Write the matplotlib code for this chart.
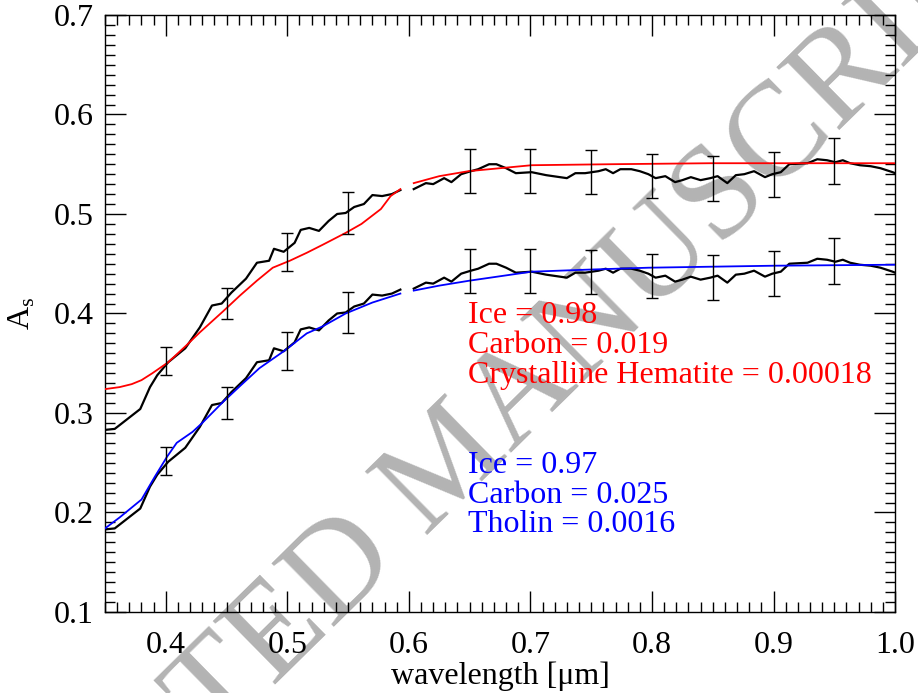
import numpy as np
import matplotlib
matplotlib.use('Agg')
import matplotlib.pyplot as plt
from matplotlib.ticker import MultipleLocator, FormatStrFormatter

plt.rcParams['font.family'] = ['Liberation Serif', 'DejaVu Serif']
plt.rcParams['mathtext.fontset'] = 'custom'
plt.rcParams['mathtext.rm'] = 'Liberation Serif'
plt.rcParams['font.size'] = 23

# observed albedo spectrum (lower copy); upper copy is shifted by offset
wave = [0.350, 0.358, 0.379, 0.387, 0.393, 0.402, 0.416, 0.428, 0.438, 0.446,
        0.454, 0.466, 0.475, 0.485, 0.489, 0.497, 0.506, 0.511, 0.518, 0.526,
        0.534, 0.541, 0.548, 0.555, 0.563, 0.570, 0.578, 0.586, 0.593,
        0.604, 0.614, 0.620, 0.629, 0.635, 0.643, 0.651, 0.657, 0.666, 0.672,
        0.680, 0.688, 0.701, 0.713, 0.730, 0.737, 0.745, 0.756, 0.762, 0.768,
        0.774, 0.783, 0.790, 0.797, 0.803, 0.811, 0.819, 0.825, 0.832, 0.840,
        0.848, 0.854, 0.862, 0.869, 0.876, 0.884, 0.893, 0.899, 0.906, 0.913,
        0.928, 0.936, 0.944, 0.951, 0.957, 0.963, 0.971, 0.980, 0.988, 0.998, 1.000]
albedo = [0.183, 0.184, 0.204, 0.226, 0.238, 0.251, 0.265, 0.286, 0.308, 0.310,
          0.321, 0.335, 0.351, 0.353, 0.365, 0.362, 0.371, 0.384, 0.386, 0.383,
          0.393, 0.400, 0.401, 0.407, 0.410, 0.419, 0.418, 0.420, 0.424,
          0.425, 0.431, 0.430, 0.436, 0.432, 0.440, 0.443, 0.445, 0.450, 0.450,
          0.446, 0.441, 0.442, 0.439, 0.436, 0.441, 0.441, 0.443, 0.445, 0.441,
          0.445, 0.445, 0.443, 0.440, 0.436, 0.438, 0.432, 0.434, 0.437, 0.434,
          0.436, 0.438, 0.431, 0.439, 0.440, 0.443, 0.437, 0.440, 0.442, 0.450,
          0.451, 0.455, 0.454, 0.452, 0.454, 0.451, 0.449, 0.448, 0.446, 0.442, 0.441]
offset = 0.1
gap = 0.6  # no data between the two detectors

err_wave = [0.40, 0.45, 0.50, 0.55, 0.65, 0.70, 0.75, 0.80, 0.85, 0.90, 0.95]
err_albedo = [0.252, 0.310, 0.362, 0.401, 0.443, 0.443, 0.442, 0.438, 0.436, 0.440, 0.453]
err_size = [0.014, 0.016, 0.019, 0.021, 0.022, 0.022, 0.022, 0.022, 0.0225, 0.0225, 0.023]

# model 1 (ice + carbon + crystalline hematite)
red_wave = [0.350, 0.362, 0.372, 0.380, 0.389, 0.402, 0.417, 0.428, 0.447, 0.461,
            0.475, 0.488, 0.502, 0.516, 0.529, 0.548, 0.561, 0.577, 0.585, 0.593,
            0.604, 0.625, 0.649, 0.675, 0.701, 0.766, 0.848, 1.000]
red_albedo = [0.324, 0.326, 0.329, 0.333, 0.340, 0.351, 0.368, 0.381, 0.402, 0.418,
              0.433, 0.446, 0.453, 0.461, 0.469, 0.481, 0.490, 0.505, 0.518, 0.525,
              0.531, 0.538, 0.543, 0.546, 0.549, 0.550, 0.551, 0.551]

# model 2 (ice + carbon + tholin)
blue_wave = [0.350, 0.362, 0.380, 0.391, 0.401, 0.409, 0.422, 0.430, 0.447, 0.461,
             0.477, 0.497, 0.516, 0.529, 0.548, 0.570, 0.593,
             0.604, 0.625, 0.650, 0.701, 0.746, 0.797, 0.900, 1.000]
blue_albedo = [0.184, 0.195, 0.213, 0.236, 0.256, 0.270, 0.281, 0.290, 0.311, 0.327,
               0.345, 0.362, 0.380, 0.387, 0.400, 0.411, 0.420,
               0.423, 0.428, 0.433, 0.442, 0.444, 0.446, 0.448, 0.449]

red_text = ['Ice = 0.98', 'Carbon = 0.019', 'Crystalline Hematite = 0.00018']
blue_text = ['Ice = 0.97', 'Carbon = 0.025', 'Tholin = 0.0016']


def split(x, y):
    x = np.array(x)
    y = np.array(y)
    lo = x < gap
    return (x[lo], y[lo]), (x[~lo], y[~lo])


fig = plt.figure(figsize=(9.18, 6.93), dpi=100)
ax = fig.add_axes([0.1144, 0.1169, 0.8606, 0.8615])
ax.set_facecolor('none')

# watermark behind everything
fig.text(452 / 918, 1 - 465 / 693, 'ACCEPTED MANUSCRIPT', fontsize=97,
         color='#b3b3b3', rotation=44.5, ha='center', va='center',
         rotation_mode='anchor', zorder=-5)

for seg in split(wave, albedo):
    ax.plot(seg[0], seg[1], color='k', lw=1.6, zorder=3)
    ax.plot(seg[0], seg[1] + offset, color='k', lw=1.6, zorder=3)
for seg in split(red_wave, red_albedo):
    ax.plot(seg[0], seg[1], color='red', lw=1.3, zorder=4)
for seg in split(blue_wave, blue_albedo):
    ax.plot(seg[0], seg[1], color='blue', lw=1.3, zorder=4)

ea = np.array(err_albedo)
for yy in (ea, ea + offset):
    ax.errorbar(err_wave, yy, yerr=err_size, fmt='none', ecolor='k',
                elinewidth=1.0, capsize=4, capthick=1.0, zorder=5)

for i, s in enumerate(red_text):
    ax.text(0.649, 0.39 - i * 0.03, s, color='red', fontsize=23, va='baseline')
for i, s in enumerate(blue_text):
    ax.text(0.649, 0.24 - i * 0.03, s, color='blue', fontsize=23, va='baseline')

ax.set_xlim(0.35, 1.0)
ax.set_ylim(0.1, 0.7)
ax.xaxis.set_major_locator(MultipleLocator(0.1))
ax.xaxis.set_minor_locator(MultipleLocator(0.01))
ax.yaxis.set_major_locator(MultipleLocator(0.1))
ax.yaxis.set_minor_locator(MultipleLocator(0.01))
ax.xaxis.set_major_formatter(FormatStrFormatter('%.1f'))
ax.yaxis.set_major_formatter(FormatStrFormatter('%.1f'))
ax.tick_params(which='both', direction='in', top=True, right=True, width=1)
ax.tick_params(which='major', length=15)
ax.tick_params(which='minor', length=7)
ax.tick_params(axis='x', which='major', pad=14, labelsize=23)
ax.tick_params(axis='y', which='major', pad=8, labelsize=23)
for sp in ax.spines.values():
    sp.set_linewidth(1)

ax.set_xlabel('wavelength [\u03bcm]', fontsize=23, labelpad=1)
ax.set_ylabel('A$_{\\rm s}$', fontsize=23, labelpad=12)

plt.savefig('out.png', dpi=100)
